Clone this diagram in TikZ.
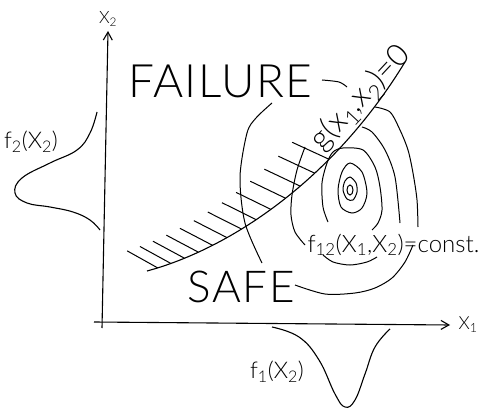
\documentclass[tikz,border=0pt]{standalone}
\usepackage{fontspec}
\setmainfont{Lato Light}
\usepackage{tikz}
\usetikzlibrary{arrows.meta,positioning}
\newcommand{\lowdig}[1]{\textsubscript{#1}}

\begin{document}
\begin{tikzpicture}[
  x=1pt, y=-1pt,
  line width=1.1pt,
  lettering/.style={inner sep=0pt, font=\fontsize{#1}{#1}\selectfont},
  axis/.style={-{Straight Barb[length=8pt,width=9pt]}},
  hatch/.style={line width=1pt},
  contour/.style={line width=1pt},
]
\useasboundingbox (0,0) rectangle (484,414);

% Axes
\coordinate (o1) at (94,322);
\coordinate (e1) at (450,325);
\coordinate (o2) at (102,328);
\coordinate (e2) at (108,31);
\draw[axis] (o1) -- (e1);
\draw[axis] (o2) -- (e2);
\node[lettering=18, right=8pt of e1] (x1) {X\lowdig{1}};
\node[lettering=17, above=4pt of e2] (x2) {X\lowdig{2}};

% Marginal densities
\draw plot[smooth, tension=0.7] coordinates {(97,112) (90,133) (77,150) (50,163) (22,178) (15,193) (27,203) (50,207) (73,212) (90,220) (100,230)};
\node[lettering=23] (f2) at (31,142) {f\lowdig{2}(X\lowdig{2})};
\draw plot[smooth, tension=0.7] coordinates {(272,327) (299,337) (319,360) (335,394) (345,407) (355,400) (365,374) (375,347) (390,329)};
\node[lettering=23] (f1) at (277,372) {f\lowdig{1}(X\lowdig{2})};

% Limit state surface
\coordinate (gA) at (147,271);
\coordinate (gB) at (225,250);
\coordinate (gC) at (330,185);
\coordinate (gD) at (405,62);
\draw (gA) .. controls (gB) and (gC) .. (gD);
\foreach \k in {0,...,12}{
  \pgfmathsetmacro{\tpos}{0.045+0.054*\k}
  \path (gA) .. controls (gB) and (gC) .. coordinate[pos=\tpos] (h) (gD);
  \draw[hatch] (h) -- ++({-30-10*\tpos},-17);
}
\node[lettering=31, rotate=47] (g) at (361,98) {g(x\lowdig{1},x\lowdig{2})=0};

% Contours of joint density
\draw[contour] (350,190) ellipse [x radius=3, y radius=5];
\draw[contour] plot[smooth cycle] coordinates {(350,177) (356,183) (357,192) (353,200) (347,199) (343,190) (345,181)};
\draw[contour] plot[smooth cycle] coordinates {(350,163) (362,172) (367,193) (362,208) (352,213) (341,207) (338,190) (342,172)};
\draw[contour] plot[smooth] coordinates {(328,222) (323,207) (322,183) (327,163) (333,152) (343,148) (363,150) (375,167) (380,187) (382,210) (378,223) (372,230)};
\draw[contour] plot[smooth] coordinates {(323,255) (333,262) (350,265) (367,262) (377,257)};
\draw[contour] plot[smooth] coordinates {(305,147) (297,170) (292,195) (291,215) (295,232) (305,245)};
\draw[contour] plot[smooth] coordinates {(362,127) (372,132) (385,150) (395,177) (400,223)};
\draw[contour] plot[smooth] coordinates {(375,107) (390,112) (400,130) (408,150) (413,173) (417,200) (418,227)};
\draw[contour] plot[smooth] coordinates {(413,245) (405,262) (392,278) (375,288) (355,293) (325,294) (295,285)};
\draw[contour] plot[smooth] coordinates {(272,103) (256,118) (247,133) (240,177) (245,223) (262,263)};
\draw[contour] plot[smooth] coordinates {(322,80) (339,82) (347,87)};
\node[lettering=24, anchor=base west] (f12) at (307,252) {f\lowdig{12}(X\lowdig{1},X\lowdig{2})=const.};

% Region labels
\node[lettering=46, anchor=base west] (fail) at (128,98) {\addfontfeature{LetterSpace=3}FAILURE};
\node[lettering=44, anchor=base west] (safe) at (187,302) {\addfontfeature{LetterSpace=4}SAFE};

\end{tikzpicture}
\end{document}
